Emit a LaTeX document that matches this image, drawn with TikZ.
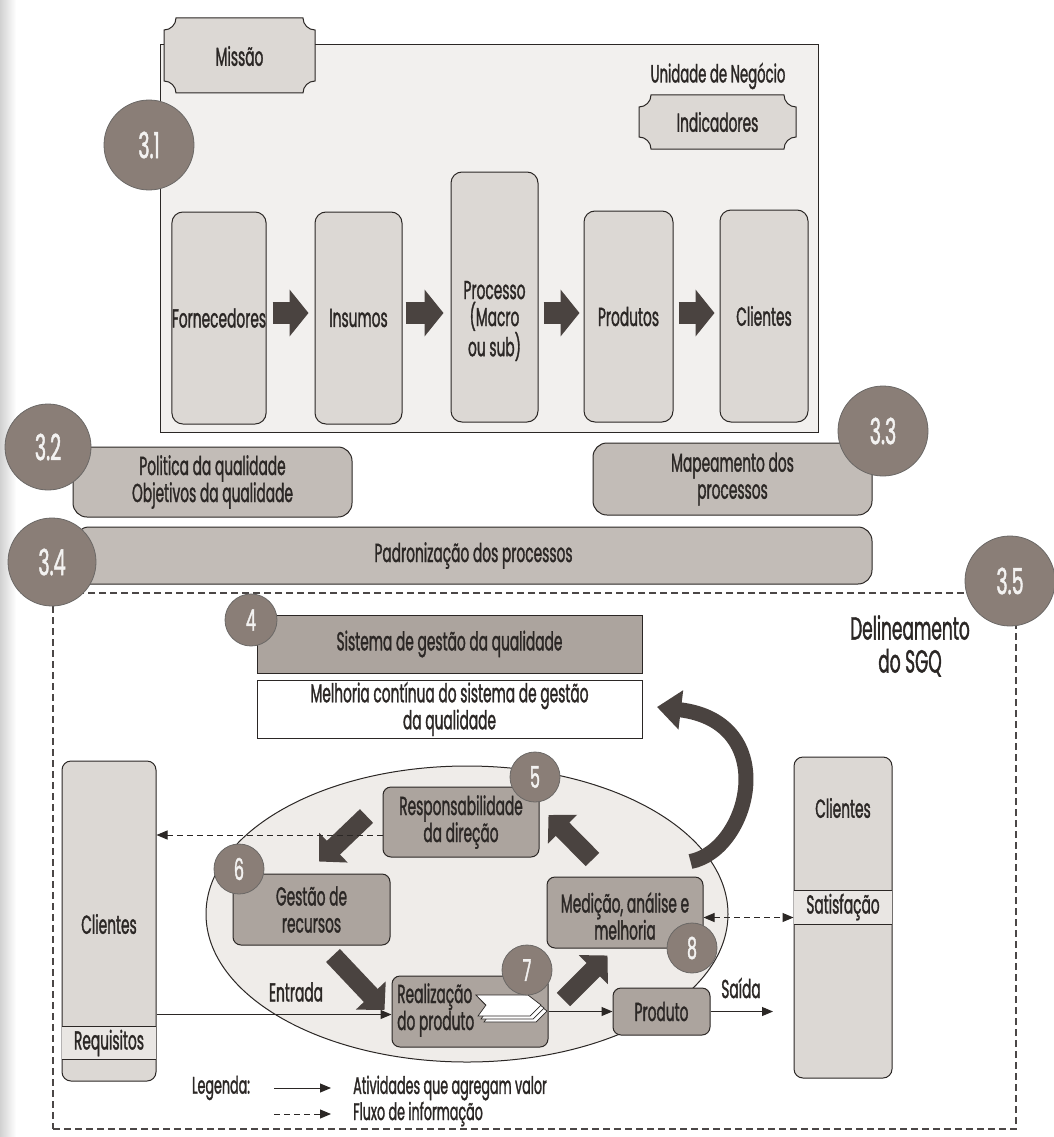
\documentclass[tikz,border=0pt]{standalone}
\usepackage{fontspec}
\setmainfont{Poppins}[FakeStretch=0.53, FakeBold=1.2]
\usetikzlibrary{arrows.meta,shapes.geometric,calc}
\definecolor{ink}{HTML}{2B2725}
\definecolor{pale}{HTML}{F2F0EE}
\definecolor{lightbox}{HTML}{DCD8D4}
\definecolor{midbox}{HTML}{C2BCB7}
\definecolor{darkbox}{HTML}{ACA49E}
\definecolor{circ}{HTML}{8A7E77}
\definecolor{arr}{HTML}{4A4340}
\definecolor{ellfill}{HTML}{EFECE9}
\definecolor{band}{HTML}{E9E6E3}
\newcommand\tabbox[4]{%
  \filldraw[draw=ink, line width=1pt, fill=lightbox] ({#1+12},#2) -- ({#3-12},#2)
    .. controls ({#3-12},{#2+6.6}) and ({#3-6.6},{#2+12}) .. (#3,{#2+12})
    -- (#3,{#4-12})
    .. controls ({#3-6.6},{#4-12}) and ({#3-12},{#4-6.6}) .. ({#3-12},#4)
    -- ({#1+12},#4)
    .. controls ({#1+12},{#4-6.6}) and ({#1+6.6},{#4-12}) .. (#1,{#4-12})
    -- (#1,{#2+12})
    .. controls ({#1+6.6},{#2+12}) and ({#1+12},{#2+6.6}) .. ({#1+12},#2)
    -- cycle;}
\tikzset{
  lbl/.style={font=\fontsize{26}{27}\selectfont, text=ink, align=center, inner sep=0pt},
  leglbl/.style={lbl, font=\fontsize{24}{25}\selectfont},
  lbox/.style={lbl, draw=ink, line width=1pt, fill=lightbox, rounded corners=11pt},
  mbox/.style={lbl, draw=ink, line width=1pt, fill=midbox, rounded corners=14pt},
  dbox/.style={lbl, draw=ink, line width=1pt, fill=darkbox, rounded corners=8pt},
  colbox/.style={lbl, draw=ink, line width=1pt, fill=lightbox, rounded corners=9pt},
  bignum/.style={circle, fill=circ, draw=ink!70, line width=0.8pt, minimum size=90pt, inner sep=0pt, text=white!90!circ, font=\fontsize{36}{36}\selectfont},
  smallnum/.style={bignum, minimum size=50pt, font=\fontsize{30}{30}\selectfont},
  blockarr/.style={draw=arr, line width=22pt, -{Triangle[length=19pt,width=46pt]}},
  thickarr/.style={draw=arr, line width=19pt, -{Triangle[length=20pt,width=40pt]}},
  valarr/.style={draw=ink, line width=1pt, -{Triangle[length=11pt,width=9pt]}},
  infoarr/.style={valarr, dash pattern=on 6pt off 4pt},
  duoarr/.style={draw=ink, line width=1pt, dash pattern=on 6pt off 4pt, {Triangle[length=11pt,width=9pt]}-{Triangle[length=11pt,width=9pt]}},
}
\begin{document}
\begin{tikzpicture}[x=1pt,y=-1pt]
\useasboundingbox (0,0) rectangle (1053,1137);
\fill[white] (0,0) rectangle (1053,1137);
\shade[left color=black!18, right color=white] (0,0) rectangle (16,1137);

% ---------- 3.1 business unit ----------
\node[draw=ink, line width=1pt, fill=pale, minimum width=658, minimum height=387, inner sep=0pt] (unit) at (489,238.5) {};
\tabbox{164}{18}{315}{93}
\node[lbl] (missao) at (239.5,56) {Missão};
\node[lbl, font=\fontsize{25}{27}\selectfont] (unidade) at (718,76) {Unidade de Negócio};
\tabbox{639}{95}{796}{149}
\node[lbl] (indic) at (717.5,122) {Indicadores};
\node[bignum] (n31) at (149,145) {3.1};

\node[lbox, minimum width=94, minimum height=212] (forn) at (219,318) {Fornecedores};
\node[lbox, minimum width=87, minimum height=212] (insumos) at (358.5,318) {Insumos};
\node[lbox, minimum width=87, minimum height=250] (proc) at (494.5,297) {};
\node[lbl] (proctxt) at (494.5,321) {Processo\\(Macro\\ou sub)};
\node[lbox, minimum width=89, minimum height=211] (produtos) at (628.5,316.5) {Produtos};
\node[lbox, minimum width=88, minimum height=212] (clientesT) at (764,316) {Clientes};

\draw[blockarr] ([shift={(6,-5)}]forn.east) -- ([shift={(-6,-5)}]insumos.west);
\draw[blockarr] ([shift={(3,-5)}]insumos.east) -- ([shift={(-7,16)}]proc.west);
\draw[blockarr] ([shift={(5,16)}]proc.east) -- ([shift={(-4,-3.5)}]produtos.west);
\draw[blockarr] ([shift={(5,-3.5)}]produtos.east) -- ([shift={(-5,-3)}]clientesT.west);

% ---------- 3.2 - 3.4 ----------
\node[mbox, minimum width=279, minimum height=70] (pol) at (212.5,482) {Politica da qualidade\\Objetivos da qualidade};
\node[bignum, minimum size=86pt] (n32) at (48,447) {3.2};
\node[mbox, minimum width=279, minimum height=72] (mapa) at (732.5,479) {Mapeamento dos\\processos};
\node[bignum] (n33) at (883,431) {3.3};
\node[mbox, minimum width=797, minimum height=57] (padr) at (473.5,555.5) {Padronização dos processos};

% ---------- 3.5 frame ----------
\node[draw=ink!85, line width=1.2pt, dash pattern=on 7pt off 4pt, minimum width=963, minimum height=536, inner sep=0pt] (sgq) at (534.5,861) {};
\node[bignum, minimum size=88pt] (n34) at (52,562) {3.4};
\node[bignum] (n35) at (1010,581) {3.5};
\node[lbl, font=\fontsize{32}{33}\selectfont] (delin) at (910,646) {Delineamento\\do SGQ};

% ---------- 4 ----------
\node[lbl, draw=ink, line width=1pt, fill=darkbox, minimum width=385, minimum height=58] (sist) at (449.5,644) {Sistema de gestão da qualidade};
\node[lbl, draw=ink, line width=1pt, fill=white, minimum width=385, minimum height=58] (melh) at (449.5,709) {Melhoria contínua do sistema de gestão\\da qualidade};
\node[smallnum, minimum size=52pt] (n4) at (251,620) {4};

% ---------- customers ----------
\node[colbox, minimum width=94, minimum height=320] (cliL) at (109,921) {};
\fill[band] (62,1026) rectangle (156,1059);
\draw[ink, line width=0.8pt] (62,1026) -- (156,1026) (62,1059) -- (156,1059);
\node[lbl] (cliLtxt) at (109,924) {Clientes};
\node[lbl] (req) at (109,1043) {Requisitos};

\node[colbox, minimum width=98, minimum height=321] (cliR) at (843,917.5) {};
\fill[band] (794,890) rectangle (892,924);
\draw[ink, line width=0.8pt] (794,890) -- (892,890) (794,924) -- (892,924);
\node[lbl] (cliRtxt) at (843,808) {Clientes};
\node[lbl] (satisf) at (843,907) {Satisfação};

% ---------- process model ----------
\node[ellipse, draw=ink, line width=1pt, fill=ellfill, minimum width=522, minimum height=296, inner sep=0pt] (ell) at (467,914) {};

\node[dbox, minimum width=156, minimum height=70] (resp) at (461,822) {Responsabilidade\\da direção};
\node[dbox, minimum width=157, minimum height=71] (gest) at (311.5,909.5) {Gestão de\\recursos};
\node[dbox, minimum width=156, minimum height=71] (med) at (625,912.5) {};
\node[lbl] (medtxt) at (625,916) {Medição, análise e\\melhoria};
\node[dbox, minimum width=156, minimum height=71] (real) at (470,1011.5) {};
\node[lbl, align=left, anchor=west] (realtxt) at (397,1010) {Realização\\do produto};
\node[dbox, minimum width=97, minimum height=47] (prod) at (661.5,1011.5) {Produto};

% document icon
\foreach \d in {6,3,0}{
  \filldraw[fill=white, draw=ink, line width=0.7pt]
    ({476+\d},{995+\d}) -- ({528+\d},{995+\d}) -- ({541+\d},{1005+\d}) -- ({530+\d},{1016+\d})
    -- ({478+\d},{1016+\d}) -- ({486+\d},{1005+\d}) -- cycle;
}

\node[smallnum] (n5) at (535,777) {5};
\node[smallnum] (n6) at (239,869) {6};
\node[smallnum] (n7) at (527,970) {7};
\node[smallnum] (n8) at (692,948) {8};

% thick cycle arrows
\draw[thickarr] ([shift={(-16,-6)}]resp.west) -- ([shift={(7.5,-12)}]gest.north);
\draw[thickarr] ([shift={(21.5,10)}]gest.south) -- ([shift={(-7,-1.5)}]real.west);
\draw[thickarr] ([shift={(15,24)}]real.north east) -- ([shift={(61,7)}]med.south west);
\draw[thickarr] ([shift={(46,-17)}]med.north west) -- ([shift={(9,-7)}]resp.east);
\draw[draw=arr, line width=15pt, -{Triangle[length=24pt,width=38pt]}]
  ([shift={(-13,-15)}]med.north east) .. controls (750,850) and (782,722) .. ([shift={(0,-2)}]melh.east -| 657,0);

% thin connectors
\draw[infoarr] ([yshift=-13]resp.west) -- ([yshift=-13]resp.west -| cliL.east);
\draw[duoarr] ([yshift=-5]med.east) -- ([yshift=-5]med.east -| cliR.west);
\draw[valarr] ([yshift=-3]real.west -| cliL.east) -- ([yshift=-3]real.west);
\node[lbl] (entrada) at (296,992) {Entrada};
\draw[valarr] (real.east) -- (prod.west);
\coordinate (saida) at (773,1011.5);
\draw[valarr] (prod.east) -- (saida);
\node[lbl] (saidatxt) at (741,988) {Saída};

% legend
\node[leglbl] (leg) at (221,1088) {Legenda:};
\coordinate (l1a) at (274,1088);
\coordinate (l1b) at (331,1088);
\draw[valarr] (l1a) -- (l1b);
\node[leglbl, anchor=west] (legv) at (353,1088) {Atividades que agregam valor};
\coordinate (l2a) at (274,1114);
\coordinate (l2b) at (331,1114);
\draw[infoarr] (l2a) -- (l2b);
\node[leglbl, anchor=west] (legi) at (353,1114) {Fluxo de informação};
\end{tikzpicture}
\end{document}
